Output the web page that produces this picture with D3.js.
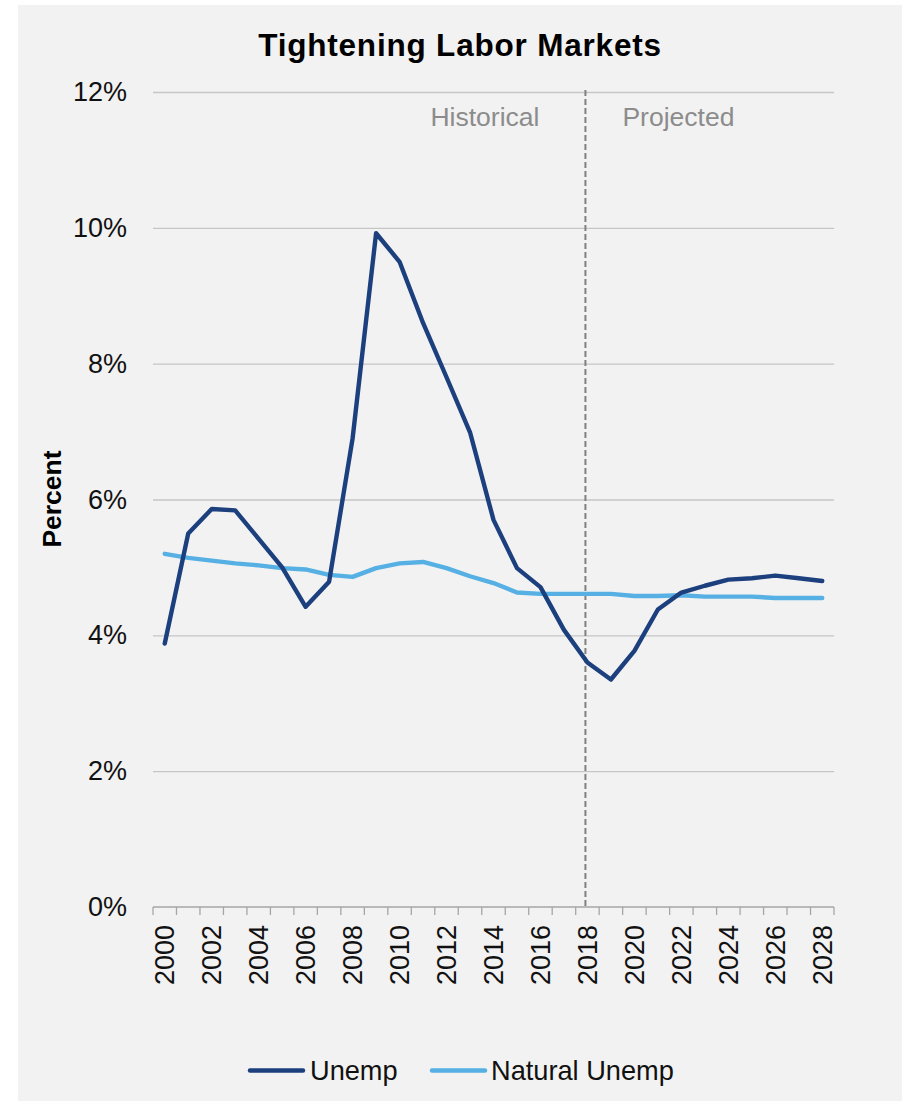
<!DOCTYPE html>
<html>
<head>
<meta charset="utf-8">
<script src="https://cdn.jsdelivr.net/npm/d3@7/dist/d3.min.js"></script>
<style>
  html, body { margin: 0; padding: 0; background: #ffffff; }
  svg { display: block; font-family: "Liberation Sans", Arial, sans-serif; }
</style>
</head>
<body>
<svg id="chart" width="905" height="1104"></svg>
<script>
// Annual values, percent
const years = ["2000","2001","2002","2003","2004","2005","2006","2007","2008","2009",
               "2010","2011","2012","2013","2014","2015","2016","2017","2018","2019",
               "2020","2021","2022","2023","2024","2025","2026","2027","2028"];
const unemp = [3.88, 5.5, 5.86, 5.84, 5.42, 5.0, 4.42, 4.79, 6.9, 9.92,
               9.5, 8.6, 7.8, 6.99, 5.7, 4.99, 4.71, 4.08, 3.6, 3.35,
               3.77, 4.38, 4.63, 4.73, 4.82, 4.84, 4.88, 4.84, 4.8];
const naturalUnemp = [5.2, 5.14, 5.1, 5.06, 5.03, 4.99, 4.97, 4.89, 4.86, 4.99,
                      5.06, 5.08, 4.99, 4.87, 4.77, 4.63, 4.61, 4.61, 4.61, 4.61,
                      4.58, 4.58, 4.59, 4.57, 4.57, 4.57, 4.55, 4.55, 4.55];
const yTicks = [0, 2, 4, 6, 8, 10, 12];
const tickYears = years.filter((d, i) => i % 2 === 0);
const dividerYear = "2018";
const seriesNames = ["Unemp", "Natural Unemp"];
const seriesColors = ["#1c3f7e", "#56b0e3"];

const svg = d3.select("#chart");

// Panel background
svg.append("rect")
  .attr("x", 18).attr("y", 5)
  .attr("width", 884).attr("height", 1096)
  .attr("fill", "#f2f2f2");

const plot = { left: 153, right: 834, top: 92, bottom: 907 };

const x = d3.scaleBand().domain(years).range([plot.left, plot.right]).padding(0);
const y = d3.scaleLinear().domain([0, 12]).range([plot.bottom, plot.top]);

// Title
svg.append("text")
  .attr("x", 460).attr("y", 56)
  .attr("text-anchor", "middle")
  .attr("font-size", 31.5)
  .attr("font-weight", "bold")
  .attr("letter-spacing", 0.8)
  .attr("fill", "#000")
  .text("Tightening Labor Markets");

// Horizontal gridlines and y tick labels
const yAxis = d3.axisLeft(y)
  .tickValues(yTicks)
  .tickSize(-(plot.right - plot.left))
  .tickPadding(26)
  .tickFormat(d => d + "%");
const gy = svg.append("g").attr("transform", `translate(${plot.left},0)`).call(yAxis);
gy.select(".domain").remove();
gy.selectAll(".tick line").attr("stroke", "#c6c6c6").attr("stroke-width", 1.3)
  .filter(d => d === 0).remove();
gy.selectAll(".tick text")
  .attr("font-size", 27)
  .attr("font-family", "Liberation Sans, Arial, sans-serif")
  .attr("fill", "#111");

// Y-axis title
svg.append("text")
  .attr("transform", "translate(61,499) rotate(-90)")
  .attr("text-anchor", "middle")
  .attr("font-size", 26.5)
  .attr("font-weight", "bold")
  .attr("fill", "#000")
  .text("Percent");

// X axis: baseline with ticks at band edges
const gx = svg.append("g").attr("transform", `translate(0,${plot.bottom})`);
gx.append("line")
  .attr("x1", plot.left).attr("x2", plot.right)
  .attr("stroke", "#a6a6a6").attr("stroke-width", 1.5);
const edges = years.map(d => x(d)).concat([plot.right]);
gx.selectAll("line.tk").data(edges).join("line")
  .attr("class", "tk")
  .attr("x1", d => d).attr("x2", d => d)
  .attr("y1", 0).attr("y2", 8)
  .attr("stroke", "#a6a6a6").attr("stroke-width", 1.3);
gx.selectAll("text").data(tickYears).join("text")
  .attr("transform", d => `translate(${x(d) + x.bandwidth() / 2},18) rotate(-90)`)
  .attr("text-anchor", "end")
  .attr("dy", "0.35em")
  .attr("font-size", 27)
  .attr("fill", "#111")
  .text(d => d);

// Historical / projected divider
const xDiv = x(dividerYear) + x.bandwidth() / 2 - 2;
svg.append("line")
  .attr("x1", xDiv).attr("x2", xDiv)
  .attr("y1", plot.top - 2).attr("y2", plot.bottom)
  .attr("stroke", "#808080").attr("stroke-width", 2)
  .attr("stroke-dasharray", "6,3");
svg.append("text")
  .attr("x", xDiv - 46).attr("y", 126)
  .attr("text-anchor", "end")
  .attr("font-size", 26.5)
  .attr("fill", "#8c8c8c")
  .text("Historical");
svg.append("text")
  .attr("x", xDiv + 37).attr("y", 126)
  .attr("text-anchor", "start")
  .attr("font-size", 26.5)
  .attr("fill", "#8c8c8c")
  .text("Projected");

// Series lines
const line = d3.line()
  .x((d, i) => x(years[i]) + x.bandwidth() / 2)
  .y(d => y(d));
[naturalUnemp, unemp].forEach((vals, k) => {
  svg.append("path")
    .datum(vals)
    .attr("fill", "none")
    .attr("stroke", k === 0 ? seriesColors[1] : seriesColors[0])
    .attr("stroke-width", 4.4)
    .attr("stroke-linejoin", "round")
    .attr("stroke-linecap", "round")
    .attr("d", line);
});

// Legend
const legendItems = [
  { name: seriesNames[0], color: seriesColors[0], x1: 250, x2: 303, tx: 310 },
  { name: seriesNames[1], color: seriesColors[1], x1: 432, x2: 485, tx: 491 }
];
const lg = svg.append("g");
legendItems.forEach(it => {
  lg.append("line")
    .attr("x1", it.x1).attr("x2", it.x2)
    .attr("y1", 1070.5).attr("y2", 1070.5)
    .attr("stroke", it.color).attr("stroke-width", 4.5)
    .attr("stroke-linecap", "round");
  lg.append("text")
    .attr("x", it.tx).attr("y", 1079.5)
    .attr("font-size", 27.2)
    .attr("fill", "#111")
    .text(it.name);
});
</script>
</body>
</html>
